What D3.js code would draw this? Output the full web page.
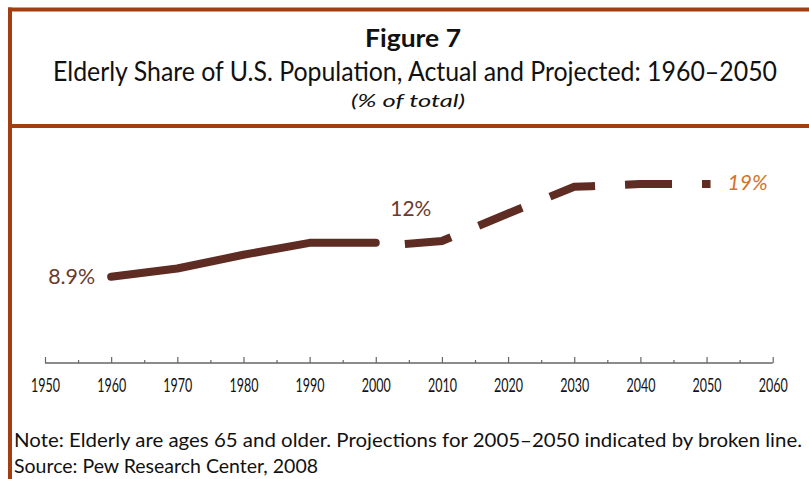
<!DOCTYPE html>
<html>
<head>
<meta charset="utf-8">
<script src="https://cdn.jsdelivr.net/npm/d3@7"></script>
<style>
  body { margin: 0; background: #fff; }
  svg text { font-family: Lato, "Open Sans", sans-serif; }
</style>
</head>
<body>
<div id="vis"></div>
<script>
var WIDTH = 809
var HEIGHT = 479

// data (% of total population aged 65+)
var actualYears = [1960, 1970, 1980, 1990, 2000];
var actualShare = [8.9, 9.8, 11.3, 12.6, 12.6];
var projYears = [2005, 2010, 2020, 2030, 2040, 2050];
var projShare = [12.5, 12.8, 15.8, 18.7, 19.0, 19.0];
var tickYears = [1950, 1960, 1970, 1980, 1990, 2000, 2010, 2020, 2030, 2040, 2050, 2060];
var minorYears = [1955, 1965, 1975, 1985, 1995, 2005, 2015, 2025, 2035, 2045, 2055];

var frameColor = '#a33e10';
var lineColor = '#5e2c22';

const svg = d3.select('#vis').append('svg')
    .attr('width', WIDTH)
    .attr('height', HEIGHT);

// frame
svg.append('line').attr('x1', 8).attr('x2', WIDTH).attr('y1', 9.5).attr('y2', 9.5)
    .attr('stroke', frameColor).attr('stroke-width', 4);
svg.append('line').attr('x1', 10).attr('x2', 10).attr('y1', 7.5).attr('y2', HEIGHT)
    .attr('stroke', frameColor).attr('stroke-width', 4);
svg.append('line').attr('x1', 8).attr('x2', WIDTH).attr('y1', 126).attr('y2', 126)
    .attr('stroke', frameColor).attr('stroke-width', 4);

// titles
svg.append('text').attr('x', 413).attr('y', 47).attr('text-anchor', 'middle')
    .attr('font-size', 25).attr('font-weight', 'bold').attr('fill', '#111')
    .attr('textLength', 96).attr('lengthAdjust', 'spacingAndGlyphs')
    .text('Figure 7');
svg.append('text').attr('x', 415).attr('y', 81).attr('text-anchor', 'middle')
    .attr('font-size', 26).attr('fill', '#111')
    .attr('textLength', 724).attr('lengthAdjust', 'spacingAndGlyphs')
    .text('Elderly Share of U.S. Population, Actual and Projected: 1960\u20132050');
svg.append('text').attr('x', 408).attr('y', 107).attr('text-anchor', 'middle')
    .attr('font-size', 17).attr('font-style', 'italic').attr('fill', '#111')
    .attr('textLength', 114).attr('lengthAdjust', 'spacingAndGlyphs')
    .text('(% of total)');

// scales
var x = d3.scaleLinear().domain([1950, 2060]).range([45, 772.7]);
var y = d3.scaleLinear().domain([0, 20]).range([358.5, 174.9]);

// axis
var axisY = 363;
var gx = svg.append('g').attr('transform', 'translate(0,' + axisY + ')');
gx.call(d3.axisBottom(x).tickValues(tickYears).tickFormat(d3.format('d'))
    .tickSize(-6).tickSizeOuter(0).tickPadding(16));
gx.select('.domain').attr('stroke', '#666').attr('stroke-width', 1.5)
    .attr('d', 'M' + x(1950) + ',0H' + x(2060));
gx.selectAll('.tick line').attr('stroke', '#666').attr('stroke-width', 1.2);
gx.selectAll('.tick text').attr('fill', '#111').attr('font-size', 19)
    .attr('textLength', 29).attr('lengthAdjust', 'spacingAndGlyphs');

var gm = svg.append('g').attr('transform', 'translate(0,' + axisY + ')');
gm.call(d3.axisBottom(x).tickValues(minorYears).tickSize(-3).tickFormat(''));
gm.select('.domain').remove();
gm.selectAll('.tick line').attr('stroke', '#666').attr('stroke-width', 1.2);

// lines
var line = d3.line().x(d => x(d[0])).y(d => y(d[1]));

svg.append('path')
    .datum(actualYears.map((yr, i) => [yr, actualShare[i]]))
    .attr('d', line)
    .attr('fill', 'none')
    .attr('stroke', lineColor)
    .attr('stroke-width', 8)
    .attr('stroke-linecap', 'round')
    .attr('stroke-linejoin', 'round');

svg.append('path')
    .datum(projYears.map((yr, i) => [yr, projShare[i]]))
    .attr('d', line)
    .attr('fill', 'none')
    .attr('stroke', lineColor)
    .attr('stroke-width', 8)
    .attr('stroke-linecap', 'square')
    .attr('stroke-dasharray', '39,38');

// value labels
svg.append('text').attr('x', x(1960) - 16).attr('y', y(actualShare[0]) + 7)
    .attr('text-anchor', 'end').attr('font-size', 22).attr('fill', '#6b3a2e')
    .attr('textLength', 47).attr('lengthAdjust', 'spacingAndGlyphs')
    .text('8.9%');
svg.append('text').attr('x', x(2005) + 2).attr('y', y(projShare[0]) - 28)
    .attr('text-anchor', 'middle').attr('font-size', 22).attr('fill', '#6b3a2e')
    .attr('textLength', 41).attr('lengthAdjust', 'spacingAndGlyphs')
    .text('12%');
svg.append('text').attr('x', x(2050) + 21).attr('y', y(projShare[5]) + 6)
    .attr('font-size', 22).attr('font-style', 'italic').attr('fill', '#d0742e')
    .attr('textLength', 40).attr('lengthAdjust', 'spacingAndGlyphs')
    .text('19%');

// notes
svg.append('text').attr('x', 14).attr('y', 447)
    .attr('font-size', 20).attr('fill', '#111')
    .attr('textLength', 788).attr('lengthAdjust', 'spacingAndGlyphs')
    .text('Note: Elderly are ages 65 and older.  Projections for 2005\u20132050 indicated by broken line.');
svg.append('text').attr('x', 14).attr('y', 473)
    .attr('font-size', 20).attr('fill', '#111')
    .attr('textLength', 304).attr('lengthAdjust', 'spacingAndGlyphs')
    .text('Source: Pew Research Center, 2008');
</script>
</body>
</html>
